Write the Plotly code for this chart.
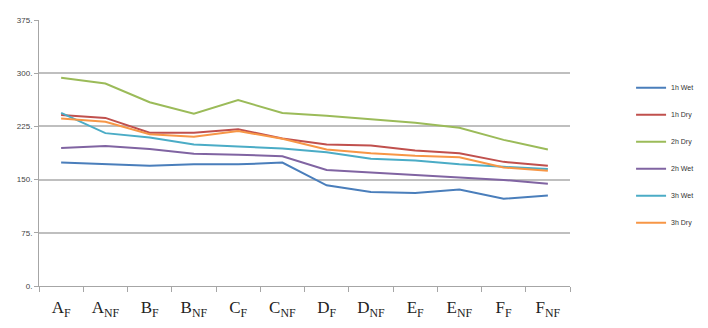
import plotly.graph_objects as go

# categories and tick labels
categories = ['AF', 'ANF', 'BF', 'BNF', 'CF', 'CNF', 'DF', 'DNF', 'EF', 'ENF', 'FF', 'FNF']
tick_labels = ['A<sub>F</sub>', 'A<sub>NF</sub>', 'B<sub>F</sub>', 'B<sub>NF</sub>',
               'C<sub>F</sub>', 'C<sub>NF</sub>', 'D<sub>F</sub>', 'D<sub>NF</sub>',
               'E<sub>F</sub>', 'E<sub>NF</sub>', 'F<sub>F</sub>', 'F<sub>NF</sub>']

# series values
wet_1h = [174, 171.5, 169.5, 171.5, 171.5, 174, 142, 132.5, 131, 136, 123, 127.5]
dry_1h = [241, 237, 216, 216, 221, 208, 199.5, 198, 191, 187, 175, 169.5]
dry_2h = [293.5, 285.5, 259, 243, 262, 244, 240, 235, 230, 223, 206, 192.5]
wet_2h = [194.5, 197.5, 193, 186.5, 185, 183, 163.5, 160, 156.5, 153, 149.5, 144]
wet_3h = [244, 215.5, 209.5, 199.5, 196.5, 194, 188.5, 179.5, 177, 171.5, 168, 165]
dry_3h = [236, 231.5, 214, 210.5, 218.5, 207.5, 192.5, 187, 183.5, 181.5, 167, 162.5]

y_ticks = [0, 75, 150, 225, 300, 375]
y_tick_labels = ['0.', '75.', '150.', '225.', '300.', '375.']

series = [
    ('1h Wet', wet_1h, '#4a7ebb'),
    ('1h Dry', dry_1h, '#c0504d'),
    ('2h Dry', dry_2h, '#9bbb59'),
    ('2h Wet', wet_2h, '#8064a2'),
    ('3h Wet', wet_3h, '#4bacc6'),
    ('3h Dry', dry_3h, '#f79646'),
]

fig = go.Figure()
for i, (name, vals, color) in enumerate(series):
    fig.add_trace(go.Scatter(
        x=categories, y=vals, mode='lines', name=name,
        line=dict(color=color, width=2),
        legendgroup=f'g{i}',
    ))

# the page adds an 8px body margin, so margins are trimmed to suit
fig.update_layout(
    width=708, height=328,
    margin=dict(l=31, r=146, t=12, b=50),
    plot_bgcolor='white', paper_bgcolor='white',
    showlegend=True,
    legend=dict(
        x=1.115, y=0.80, xanchor='left', yanchor='top',
        traceorder='grouped', tracegroupgap=8,
        font=dict(family='Liberation Sans', size=7, color='#333333'),
        itemwidth=30,
    ),
)

fig.update_xaxes(
    tickmode='array', tickvals=categories, ticktext=tick_labels,
    tickfont=dict(family='Liberation Serif', size=17, color='#222222'),
    showgrid=False, showline=True, linecolor='#a6a6a6', linewidth=1,
    ticks='outside', tickson='boundaries', ticklen=5, tickcolor='#a6a6a6',
    ticklabelstandoff=6,
    range=[-0.5, 11.5], automargin=False,
)
fig.update_yaxes(
    range=[0, 375], tickmode='array', tickvals=y_ticks, ticktext=y_tick_labels,
    tickfont=dict(family='Liberation Sans', size=8, color='#444444'),
    showgrid=True, gridcolor='#bfbfbf', gridwidth=1.5,
    showline=True, linecolor='#a6a6a6', linewidth=1,
    ticks='outside', ticklen=4, tickcolor='#a6a6a6',
    zeroline=False, automargin=False,
)

fig.write_html('out.html')
